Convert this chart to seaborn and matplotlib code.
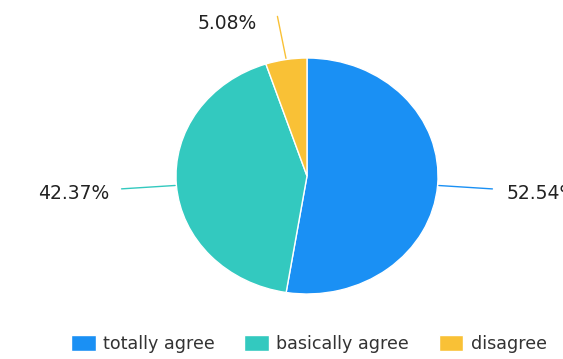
import numpy as np
import matplotlib
matplotlib.use('Agg')
import matplotlib.pyplot as plt
import seaborn as sns

categories = ['totally agree', 'basically agree', 'disagree']
shares = [52.54, 42.37, 5.08]
pct_labels = ['52.54%', '42.37%', '5.08%']
colors = ['#1a90f4', '#33c9bf', '#f9c136']

sns.set_theme(style='white')
plt.rcParams['font.family'] = ['DejaVu Sans']

fig = plt.figure(figsize=(5.63, 3.59), dpi=100)
fig.patch.set_facecolor('white')

# pie box in pixels: x 176..438, y 58..294 (slightly elliptical)
W, H = 563, 359
ax = fig.add_axes([176 / W, (H - 294) / H, 262 / W, 236 / H])

wedges, _ = ax.pie(shares, colors=colors, startangle=90, counterclock=False,
                   radius=1.0, wedgeprops=dict(edgecolor='white', linewidth=1))
ax.set_aspect('auto')
ax.set_xlim(-1, 1)
ax.set_ylim(-1, 1)
ax.axis('off')

for w, lab, col in zip(wedges, pct_labels, colors):
    mid = np.deg2rad((w.theta1 + w.theta2) / 2)
    cx, cy = np.cos(mid), np.sin(mid)
    x0, y0 = 1.01 * cx, 1.01 * cy
    x1, y1 = 1.42 * cx, 1.37 * cy
    ax.plot([x0, x1], [y0, y1], color=col, lw=1, clip_on=False)
    if cx > 0:
        ax.text(x1 + 0.105, y1 - 0.04, lab, ha='left', va='center',
                fontsize=13.5, color='#222222', clip_on=False)
    else:
        off = 0.09 if cy < 0.5 else 0.16
        dy = 0.04 if cy < 0.5 else 0.06
        ax.text(x1 - off, y1 - dy, lab, ha='right', va='center',
                fontsize=13.5, color='#222222', clip_on=False)

leg = fig.legend(wedges, categories, loc='center left',
                 bbox_to_anchor=(71 / W, 1 - 344 / H), ncol=3, frameon=False,
                 fontsize=12.6, handlelength=1.4, handleheight=1.0,
                 handletextpad=0.42, columnspacing=1.7, borderpad=0,
                 borderaxespad=0)
for t in leg.get_texts():
    t.set_color('#333333')

fig.savefig('out.png', dpi=100)
